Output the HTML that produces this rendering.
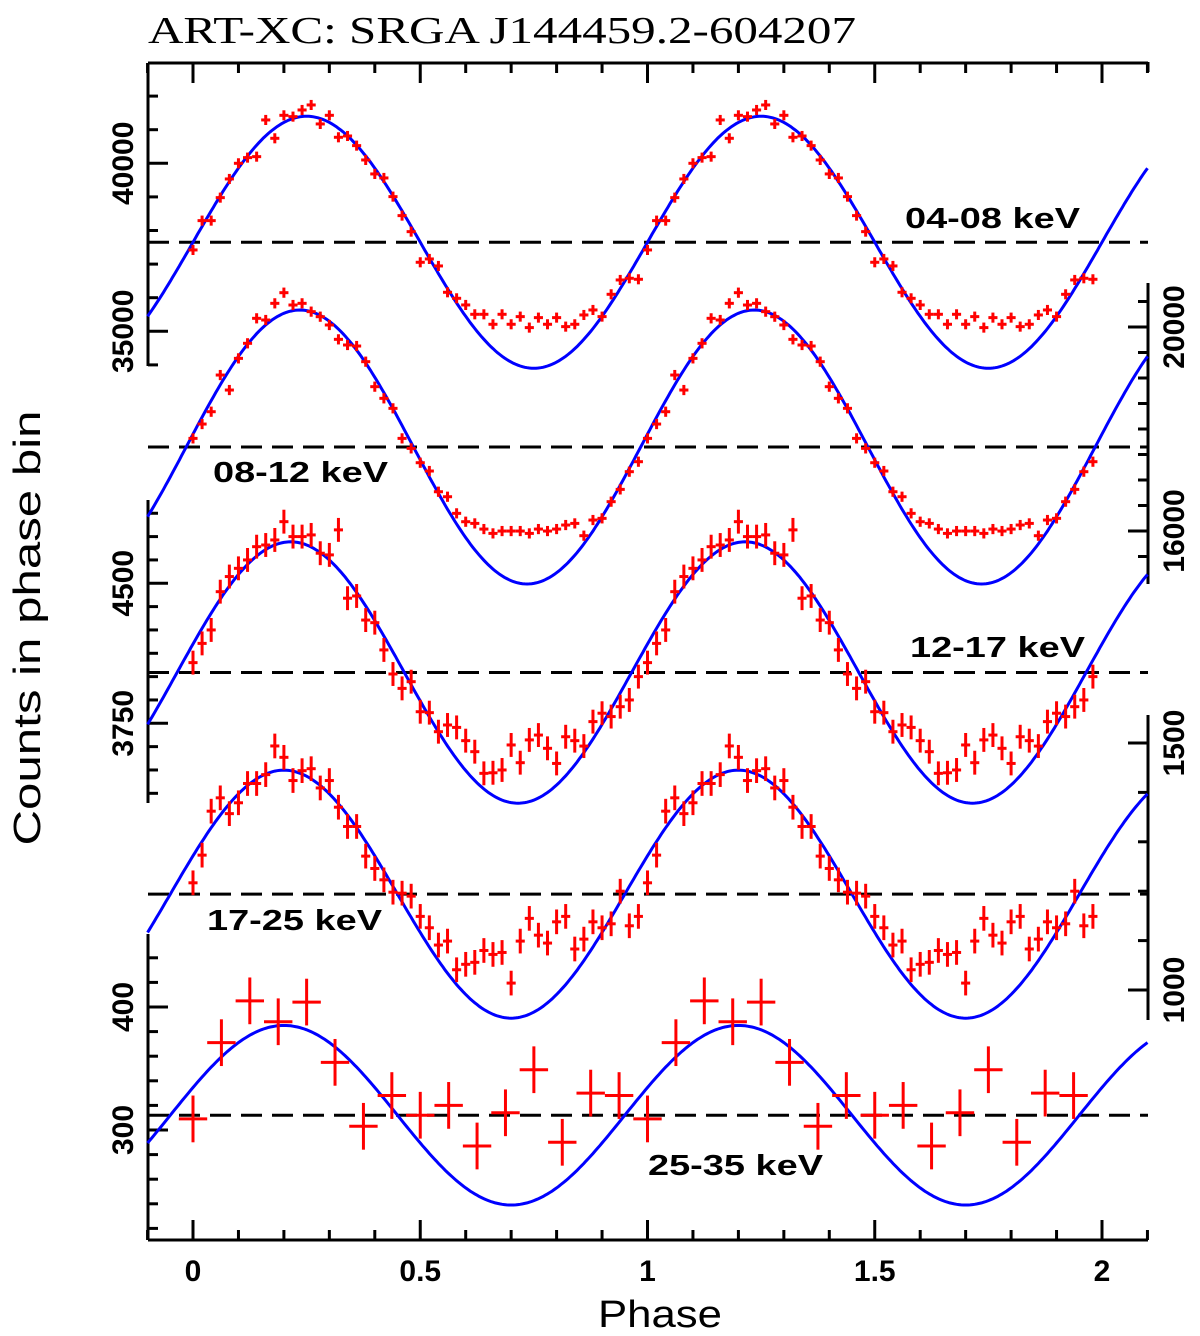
<!DOCTYPE html>
<html><head><meta charset="utf-8"><style>
html,body{margin:0;padding:0;background:#fff}
svg{display:block}
text{fill:#000}
</style></head><body>
<svg id="chart" width="1200" height="1336" viewBox="0 0 1200 1336" xmlns="http://www.w3.org/2000/svg">
<text x="148" y="43" style="font-family:'Liberation Serif',serif;font-size:38px" textLength="708" lengthAdjust="spacingAndGlyphs">ART-XC: SRGA J144459.2-604207</text>
<text transform="translate(40,628) rotate(-90)" text-anchor="middle" style="font-family:'Liberation Sans',sans-serif;font-size:38px" textLength="435" lengthAdjust="spacingAndGlyphs">Counts in phase bin</text>
<text x="660" y="1327" text-anchor="middle" style="font-family:'Liberation Sans',sans-serif;font-size:38px" textLength="124" lengthAdjust="spacingAndGlyphs">Phase</text>
<g id="axes"></g>
<g id="marks"></g>
</svg>
<script>
// phase-binned counts, one cycle (second cycle repeats)
const phaseTicks = [0, 0.5, 1, 1.5, 2];
const phaseTickLabels = ["0", "0.5", "1", "1.5", "2"];
const bandLabels = ["04-08 keV", "08-12 keV", "12-17 keV", "17-25 keV", "25-35 keV"];
const counts0408 = [37421,38294,38294,38978,39534,40000,40169,40198,41290,40744,41428,41389,41587,41736,41171,41428,40774,40813,40526,40099,39683,39564,39008,38443,37966,37054,37153,36945,36161,35982,35784,35506,35506,35209,35506,35209,35437,35110,35407,35209,35407,35139,35209,35486,35635,35437,36101,36528,36578,36548];
const counts0812 = [17816,18097,18339,19058,18764,19385,19680,20170,20137,20464,20673,20431,20464,20301,20202,20039,19758,19647,19627,19320,18830,18601,18405,17816,17620,17339,17176,16770,16672,16346,16182,16149,16038,15953,15999,15999,15999,15953,16038,15999,16038,16117,16149,15908,16215,16248,16575,16816,17163,17359];
const counts1217 = [4075,4178,4250,4455,4536,4580,4625,4696,4705,4732,4830,4750,4750,4759,4661,4652,4786,4420,4432,4303,4289,4143,4014,3937,3973,3812,3807,3705,3741,3728,3657,3598,3482,3485,3500,3634,3539,3661,3687,3616,3535,3678,3657,3628,3759,3804,3786,3839,3875,4000];
const counts1725 = [1217,1273,1362,1389,1357,1379,1418,1418,1436,1494,1471,1424,1444,1448,1409,1424,1370,1331,1331,1271,1246,1223,1198,1196,1190,1149,1126,1091,1099,1041,1052,1056,1080,1072,1076,1014,1099,1145,1111,1095,1138,1149,1083,1103,1138,1126,1134,1200,1130,1149];
const counts2535 = [309,371,405,388,404,355,303,328,312,320,287,314,349,290,330,328];
const errors = [150, 100, 64, 25, 19];
const fitMean = [37650, 17647, 4022, 1194, 312];
const fitAmp = [3750, 2686, 700, 251, 73];
const fitPeak = [0.25, 0.235, 0.215, 0.20, 0.20];
const leftTicks1 = [34000,35000,36000,37000,38000,39000,40000,41000,42000];
const rightTicks2 = [15500,16000,16500,17000,17500,18000,18500,19000,19500,20000,20500];
const leftTicks3 = [3375,3500,3625,3750,3875,4000,4125,4250,4375,4500,4625,4750,4875];
const rightTicks4 = [1000,1100,1200,1300,1400,1500];
const leftTicks5 = [220,240,260,280,300,320,340,360,380,400,420,440];

const NS = "http://www.w3.org/2000/svg";
const axes = document.getElementById('axes');
const marks = document.getElementById('marks');
const SANS = "font-family:'Liberation Sans',sans-serif;";
function px(p){ return 193 + (p) * 454.5; }
const yf = [
  v => 163.3 + (40000 - v) * 0.0336,
  v => 327 + (20000 - v) * 0.051,
  v => 723.3 + (3750 - v) * 0.1867,
  v => 990 + (1000 - v) * 0.494,
  v => 1007 + (400 - v) * 1.23
];
function mk(tag, attrs, parent){
  const e = document.createElementNS(NS, tag);
  for (const k in attrs) e.setAttribute(k, attrs[k]);
  parent.appendChild(e);
  return e;
}
let e;
e = mk('line',{x1:148,y1:63,x2:1148,y2:63,stroke:'#000','stroke-width':3},axes);


e = mk('line',{x1:148,y1:1240,x2:1148,y2:1240,stroke:'#000','stroke-width':3},axes);


e = mk('line',{x1:1148,y1:62,x2:1148,y2:72,stroke:'#000','stroke-width':3},axes);


for (let k = -1; k <= 21; k++){
  const p = k / 10, x = px(p);
  const major = (k % 5 === 0);
  const L = major ? 20 : 10;
  e = mk('line',{x1:x,y1:63,x2:x,y2:63+L,stroke:'#000','stroke-width':3},axes);
  
  
  e = mk('line',{x1:x,y1:1240,x2:x,y2:1240-L,stroke:'#000','stroke-width':3},axes);
  
  
}
phaseTicks.forEach((p,i)=>{
  const t = mk('text',{x:px(p),y:1281,'text-anchor':'middle',style:SANS+'font-size:30px;font-weight:bold'},axes);
  t.textContent = phaseTickLabels[i];
  
  
});
function panelAxis(idx, side, yTop, yBot, ticks, majors){
  const x = side === 'left' ? 148 : 1148;
  const dir = side === 'left' ? 1 : -1;
  e = mk('line',{x1:x,y1:yTop,x2:x,y2:yBot,stroke:'#000','stroke-width':3},axes);
  
  
  ticks.forEach(v=>{
    const y = yf[idx](v);
    const L = majors.includes(v) ? 20 : 10;
    e = mk('line',{x1:x,y1:y,x2:x+dir*L,y2:y,stroke:'#000','stroke-width':3},axes);
    
    
  });
  majors.forEach(v=>{
    const y = yf[idx](v);
    const lx = side === 'left' ? 133 : 1184;
    const t = mk('text',{transform:`translate(${lx},${y}) rotate(-90)`,'text-anchor':'middle',style:SANS+'font-size:30px;font-weight:bold'},axes);
    t.textContent = String(v);
    
    
  });
}
panelAxis(0,'left',63,366,leftTicks1,[35000,40000]);
panelAxis(1,'right',283,584,rightTicks2,[16000,20000]);
panelAxis(2,'left',500,803,leftTicks3,[3750,4500]);
panelAxis(3,'right',715,1020,rightTicks4,[1000,1500]);
panelAxis(4,'left',934,1240,leftTicks5,[300,400]);

const series = [counts0408, counts0812, counts1217, counts1725, counts2535];
const labelPos = [[905,228],[213,482],[910,657],[207,930],[648,1175]];
series.forEach((arr, idx)=>{
  const f = yf[idx];
  const ym = f(fitMean[idx]);
  e = mk('line',{x1:148,y1:ym,x2:1148,y2:ym,stroke:'#000','stroke-width':3,'stroke-dasharray':'21 10'},marks);
  
  
  let d = '';
  for (let k = 0; k <= 440; k++){
    const p = -0.1 + k * 0.005;
    const v = fitMean[idx] + fitAmp[idx] * Math.cos(2*Math.PI*(p - fitPeak[idx]));
    d += (k ? 'L' : 'M') + px(p).toFixed(1) + ',' + f(v).toFixed(1);
  }
  e = mk('path',{d:d,fill:'none',stroke:'#0000ff','stroke-width':3},marks);
  
  
  const n = arr.length, bw = 1 / n;
  for (let c = 0; c < 2; c++){
    arr.forEach((v,i)=>{
      const p = c + i * bw;
      const x = px(p), y = f(v);
      const g = mk('g',{stroke:'#ff0000','stroke-width':3},marks);
      
      
      mk('line',{x1:px(p - bw/2),y1:y,x2:px(p + bw/2),y2:y},g);
      mk('line',{x1:x,y1:f(v + errors[idx]),x2:x,y2:f(v - errors[idx])},g);
    });
  }
  const t = mk('text',{x:labelPos[idx][0],y:labelPos[idx][1],style:SANS+'font-size:29px;font-weight:bold',textLength:175,lengthAdjust:'spacingAndGlyphs'},marks);
  t.textContent = bandLabels[idx];
  
  
});
</script>
</body></html>
